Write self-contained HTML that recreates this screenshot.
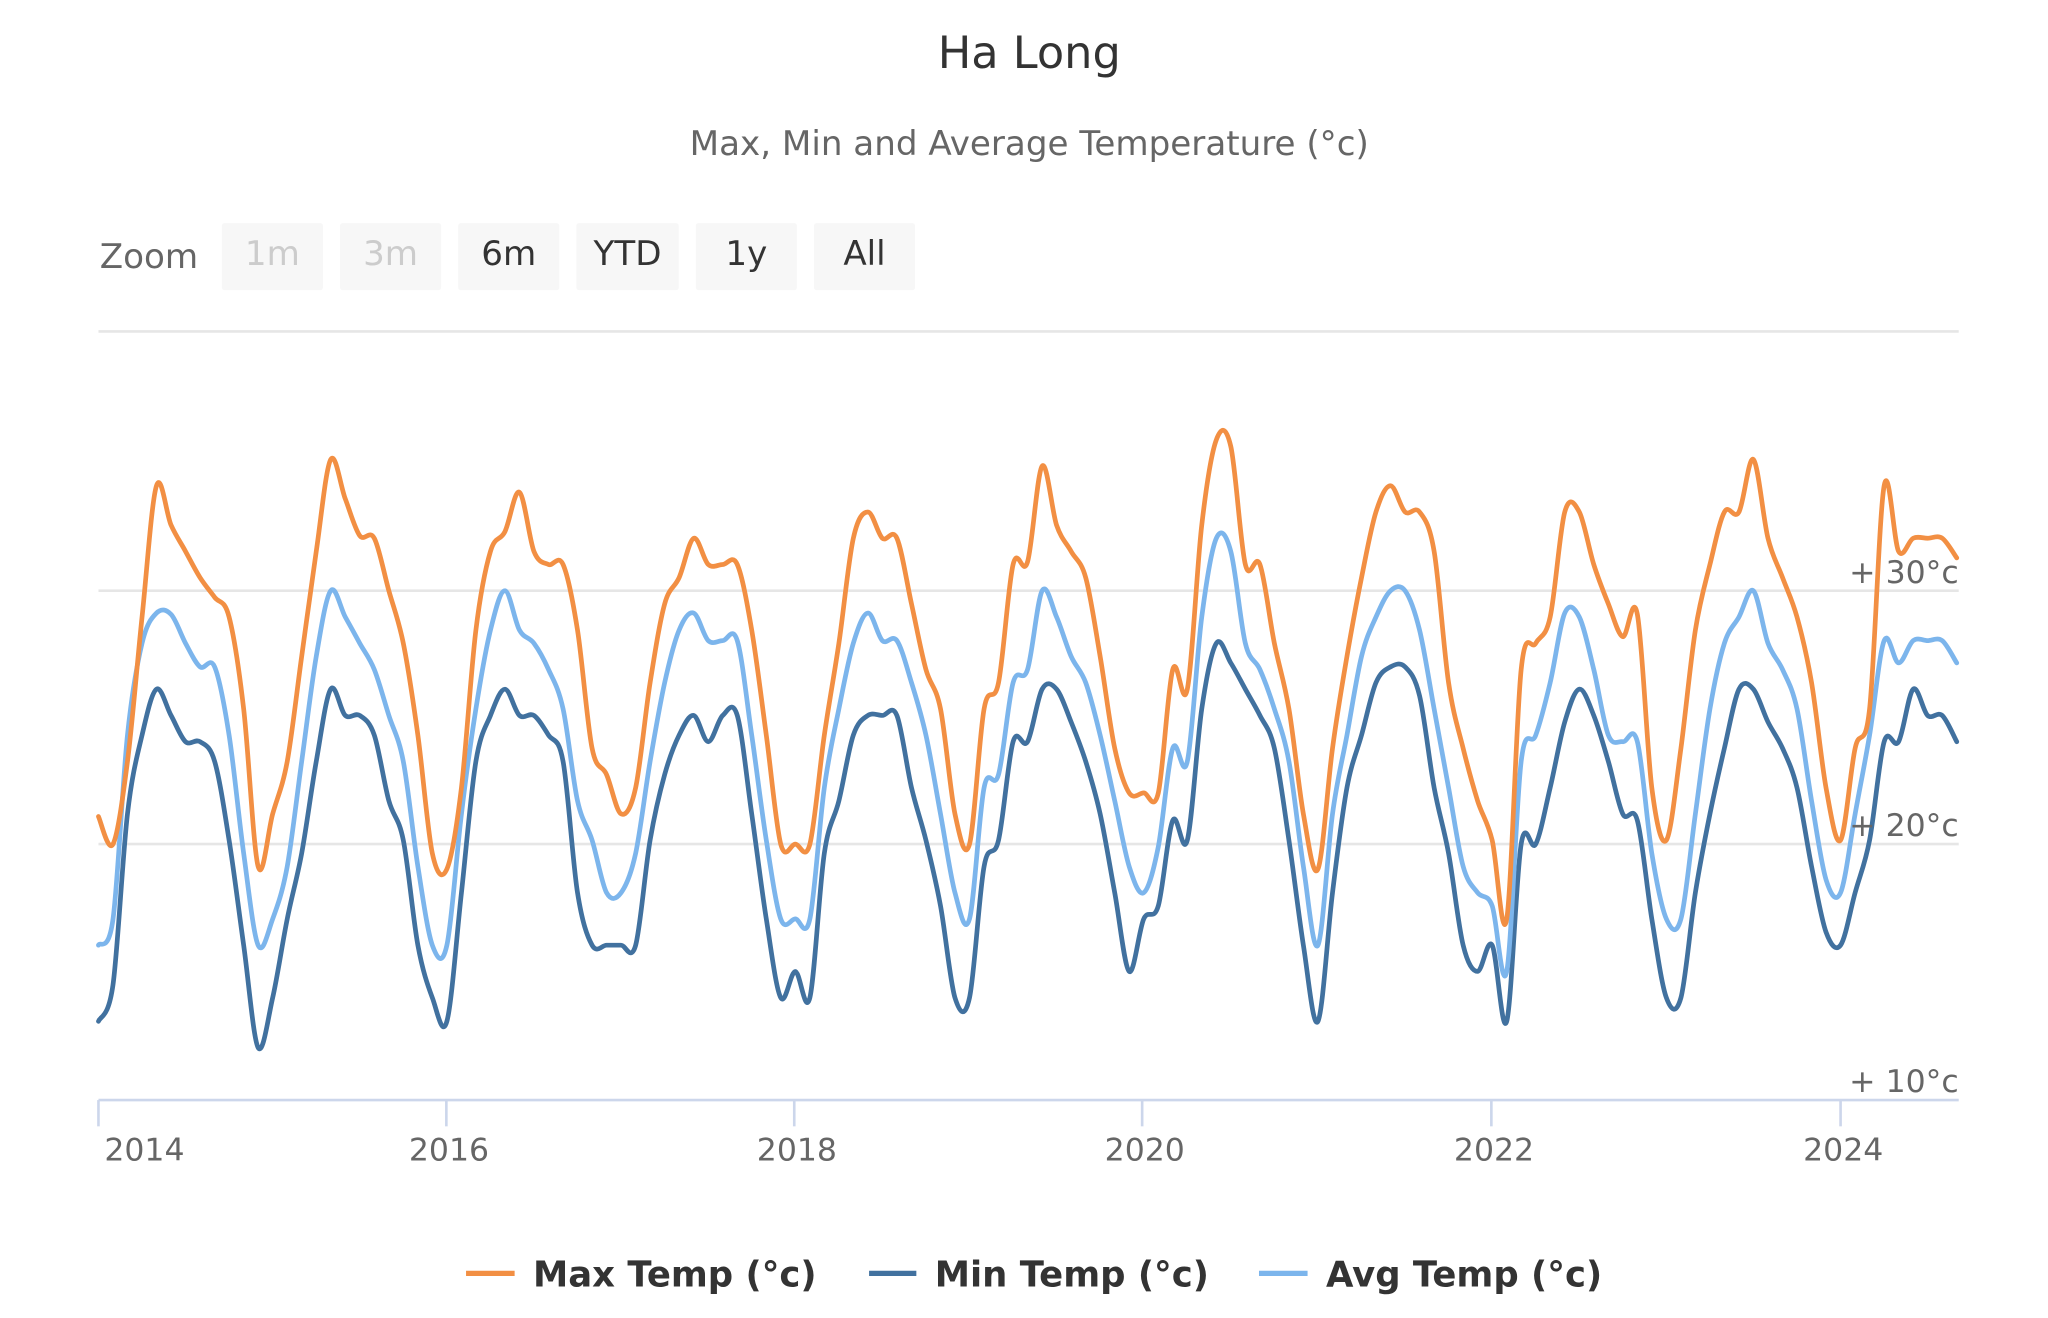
<!DOCTYPE html>
<html><head><meta charset="utf-8">
<style>
html,body{margin:0;padding:0;background:#fff;}
svg{display:block;}
text{font-family:"DejaVu Sans","Liberation Sans",sans-serif;}
</style></head>
<body>
<svg id="c" width="2048" height="1318" viewBox="0 0 1560 1004" preserveAspectRatio="none" xmlns="http://www.w3.org/2000/svg">
<rect width="1560" height="1004" fill="#fff"/>
<text x="784" y="52" text-anchor="middle" font-size="34" fill="#333">Ha Long</text>
<text x="784" y="118" text-anchor="middle" font-size="26" fill="#666">Max, Min and Average Temperature (°c)</text>
<text x="76" y="204" font-size="26" fill="#666">Zoom</text>
<g font-size="26" text-anchor="middle">
<rect x="169" y="170" width="77" height="51" rx="2" fill="#f7f7f7"/><text x="207.5" y="202" fill="#ccc">1m</text>
<rect x="259" y="170" width="77" height="51" rx="2" fill="#f7f7f7"/><text x="297.5" y="202" fill="#ccc">3m</text>
<rect x="349" y="170" width="77" height="51" rx="2" fill="#f7f7f7"/><text x="387.5" y="202" fill="#333">6m</text>
<rect x="439" y="170" width="78" height="51" rx="2" fill="#f7f7f7"/><text x="478" y="202" fill="#333">YTD</text>
<rect x="530" y="170" width="77" height="51" rx="2" fill="#f7f7f7"/><text x="568.5" y="202" fill="#333">1y</text>
<rect x="620" y="170" width="77" height="51" rx="2" fill="#f7f7f7"/><text x="658.5" y="202" fill="#333">All</text>
</g>
<line x1="75" y1="252.5" x2="1492" y2="252.5" stroke="#e6e6e6" stroke-width="2"/>
<line x1="75" y1="450" x2="1492" y2="450" stroke="#e6e6e6" stroke-width="2"/>
<line x1="75" y1="643" x2="1492" y2="643" stroke="#e6e6e6" stroke-width="2"/>
<line x1="75" y1="838" x2="1492" y2="838" stroke="#ccd6eb" stroke-width="2"/>
<g stroke="#ccd6eb" stroke-width="2">
<line x1="75" y1="838" x2="75" y2="858"/><line x1="340" y1="838" x2="340" y2="858"/>
<line x1="605" y1="838" x2="605" y2="858"/><line x1="870" y1="838" x2="870" y2="858"/>
<line x1="1136" y1="838" x2="1136" y2="858"/><line x1="1402" y1="838" x2="1402" y2="858"/>
</g>
<g id="series" fill="none" stroke-width="3.6" stroke-linejoin="round" stroke-linecap="round"></g>
<g font-size="24" fill="#666" text-anchor="end">
<text x="1492" y="444">+ 30°c</text>
<text x="1492" y="637">+ 20°c</text>
<text x="1492" y="832">+ 10°c</text>
</g>
<g font-size="24" fill="#666" text-anchor="middle">
<text x="110" y="884">2014</text><text x="342" y="884">2016</text><text x="607" y="884">2018</text>
<text x="872" y="884">2020</text><text x="1138" y="884">2022</text><text x="1404" y="884">2024</text>
</g>
<g font-size="27" font-weight="bold" fill="#333">
<line x1="355" y1="970" x2="392" y2="970" stroke="#f28f43" stroke-width="4"/><text x="406" y="980">Max Temp (°c)</text>
<line x1="662" y1="970" x2="698" y2="970" stroke="#41719f" stroke-width="4"/><text x="712" y="980">Min Temp (°c)</text>
<line x1="959" y1="970" x2="996" y2="970" stroke="#7cb5ec" stroke-width="4"/><text x="1010" y="980">Avg Temp (°c)</text>
</g>
</svg>
<script>
var mx=[622,643,580,470,370,400,420,440,455,470,540,660,
620,580,500,420,350,380,408,410,450,490,560,650,
662,600,480,420,405,375,420,430,430,480,570,590,
620,600,520,460,440,410,430,430,430,480,560,643,
643,643,560,490,410,390,410,410,460,510,540,620,
643,540,520,430,428,355,400,420,440,500,570,604,
604,604,510,525,400,335,340,430,430,490,540,620,
662,570,500,440,390,370,390,390,420,520,570,610,
640,700,510,490,470,390,390,430,460,485,468,600,
640,570,480,430,390,390,350,410,440,470,520,600,
640,570,540,370,420,410,410,410,425];
var mn=[778,750,620,560,525,545,565,565,580,640,720,798,
760,700,650,580,525,545,545,560,610,640,720,760,
778,680,580,545,525,545,545,560,580,680,720,720,
720,720,640,590,560,545,565,545,545,620,700,760,
740,760,650,610,560,545,545,545,600,640,690,760,
760,660,640,565,565,525,525,550,580,620,680,740,
700,690,625,640,540,490,505,525,545,570,640,720,
778,680,600,560,520,508,508,530,600,650,720,740,
720,778,643,643,600,550,525,545,580,620,625,700,
760,760,680,620,570,525,525,550,570,600,660,710,
720,680,640,565,565,525,545,545,565];
var av=[720,700,560,490,467,468,490,508,508,560,650,720,
700,660,580,500,450,470,490,510,545,580,660,720,
720,620,540,480,450,480,490,510,540,610,640,680,
680,650,580,520,480,467,488,488,488,560,640,700,
700,700,600,540,490,467,488,488,520,560,620,680,
700,600,590,520,510,450,470,500,520,560,610,660,
680,645,570,580,470,410,420,490,510,540,580,660,
720,620,560,500,470,450,450,480,540,600,660,680,
690,740,580,560,520,467,470,510,560,565,565,650,
700,700,620,540,490,470,450,490,510,540,610,670,
680,620,560,488,505,488,488,488,505];
function path(a){var p=a.map(function(y,i){return [75+132.7*i/12,y];});
var d="M"+p[0][0].toFixed(1)+","+p[0][1];
for(var i=0;i<p.length-1;i++){var p0=p[Math.max(0,i-1)],p1=p[i],p2=p[i+1],p3=p[Math.min(p.length-1,i+2)];
var c1x=p1[0]+(p2[0]-p0[0])/6,c1y=p1[1]+(p2[1]-p0[1])/6,c2x=p2[0]-(p3[0]-p1[0])/6,c2y=p2[1]-(p3[1]-p1[1])/6;
d+=" C"+c1x.toFixed(1)+","+c1y.toFixed(1)+" "+c2x.toFixed(1)+","+c2y.toFixed(1)+" "+p2[0].toFixed(1)+","+p2[1];}
return d;}
var g=document.getElementById("series"),ns="http://www.w3.org/2000/svg";
[[mn,"#41719f"],[av,"#7cb5ec"],[mx,"#f28f43"]].forEach(function(s){var e=document.createElementNS(ns,"path");e.setAttribute("d",path(s[0]));e.setAttribute("stroke",s[1]);g.appendChild(e);});
</script>
</body></html>
